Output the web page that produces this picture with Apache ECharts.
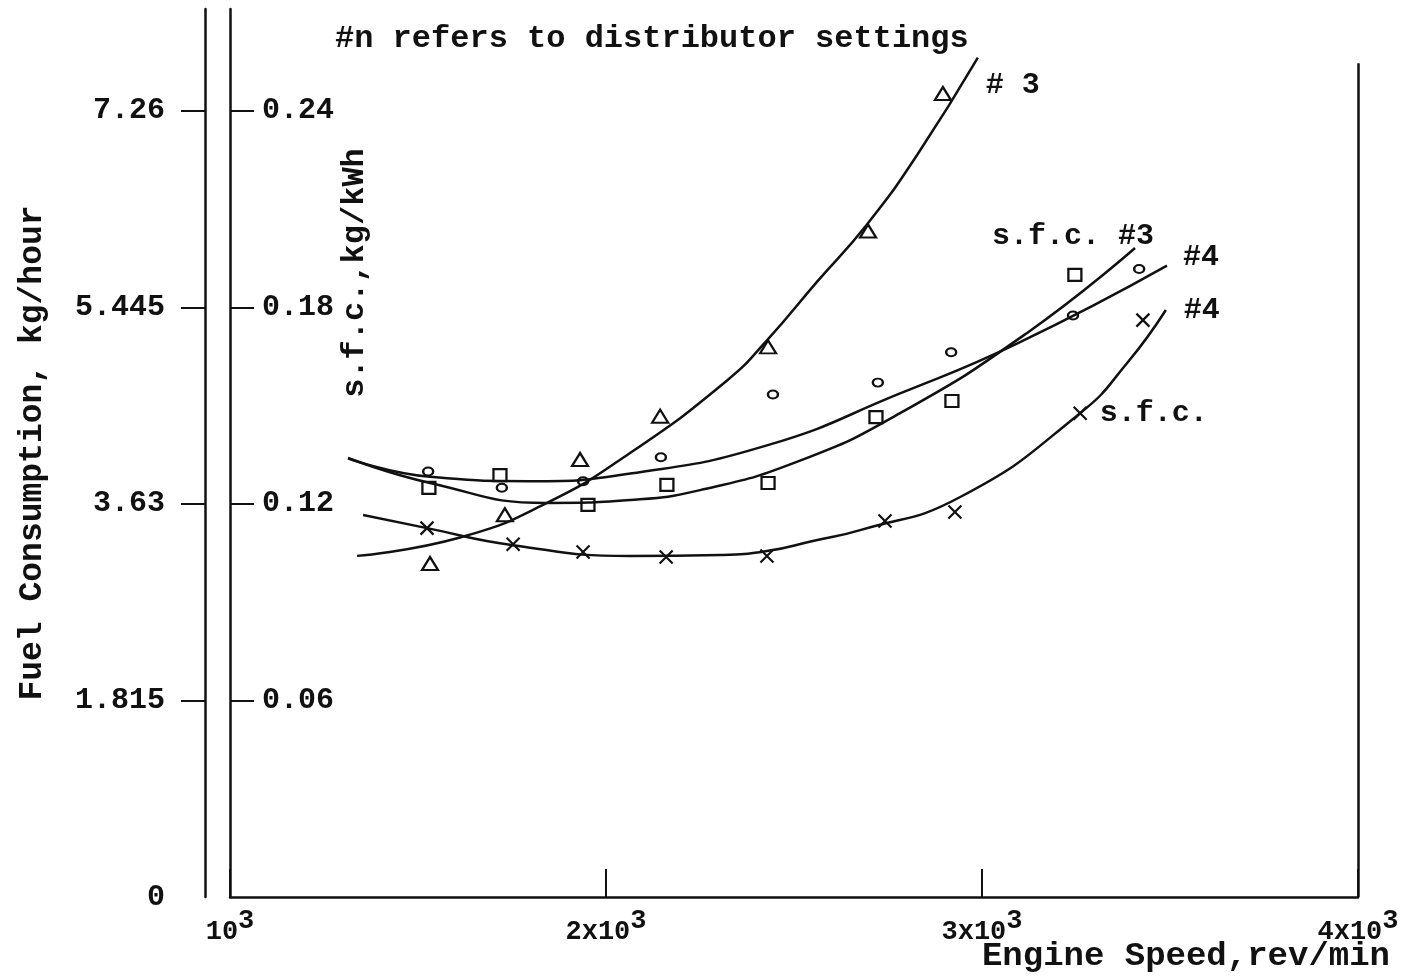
<!DOCTYPE html>
<html>
<head>
<meta charset="utf-8">
<script src="https://cdn.jsdelivr.net/npm/echarts@6/dist/echarts.min.js"></script>
<style>
  html, body { margin: 0; padding: 0; background: #fff; }
  #chart { width: 1427px; height: 979px; }
</style>
</head>
<body>
<div id="chart"></div>
<script>
// Engine speed axis (rev/min)
const speedTicks = [1000, 2000, 3000, 4000];

// Fuel consumption axis (kg/hour) and the matching s.f.c. axis (kg/kWh)
const fuelTicks = [0, 1.815, 3.63, 5.445, 7.26];
const sfcTicks = [0.06, 0.12, 0.18, 0.24];
const fuelMax = 8.2;
const sfcPerFuel = 0.24 / 7.26;   // 0.24 kg/kWh sits level with 7.26 kg/hour
const frameTop = 7.70;             // height of the right-hand frame line

// Distributor setting #3 - fuel consumption (kg/hour)
const fuel3Curve = [[1338,3.15],[1612,3.32],[1843,3.64],[2064,4.10],[2322,4.77],[2428,5.14],[2561,5.68],[2694,6.21],[2827,6.85],[2989,7.75]];
const fuel3Points = [[1532,3.08],[1731,3.53],[1931,4.04],[2144,4.44],[2431,5.08],[2697,6.15],[2896,7.42]];

// Distributor setting #4 - fuel consumption (kg/hour)
const fuel4Curve = [[1314,4.05],[1532,3.88],[1800,3.84],[2064,3.91],[2428,4.17],[2782,4.65],[3093,5.11],[3492,5.83]];
const fuel4Points = [[1527,3.93],[1723,3.78],[1939,3.84],[2146,4.06],[2444,4.64],[2723,4.75],[2918,5.03],[3242,5.37],[3418,5.80]];

// Distributor setting #3 - specific fuel consumption (kg/kWh)
const sfc3Curve = [[1314,0.1340],[1532,0.1264],[1843,0.1203],[2064,0.1212],[2250,0.1242],[2516,0.1332],[2782,0.1477],[3120,0.1722],[3407,0.1981]];
const sfc3Points = [[1529,0.1249],[1718,0.1288],[1952,0.1197],[2162,0.1258],[2431,0.1264],[2718,0.1465],[2920,0.1514],[3247,0.1899]];

// Distributor setting #4 - specific fuel consumption (kg/kWh)
const sfc4Curve = [[1354,0.1166],[1524,0.1126],[1753,0.1074],[2064,0.1041],[2303,0.1044],[2428,0.1056],[2550,0.1087],[2676,0.1120],[2942,0.1221],[3261,0.1477],[3386,0.1630],[3489,0.1792]];
const sfc4Points = [[1524,0.1126],[1753,0.1077],[1939,0.1053],[2160,0.1038],[2428,0.1041],[2742,0.1148],[2928,0.1175],[3261,0.1477],[3428,0.1761]];
const sfc4LabelIndex = 7;  // the point carrying the "s.f.c." note

const INK = '#111';
const FONT = '"Liberation Mono", "DejaVu Sans Mono", monospace';
const CROSS = 'path://M0,0L10,10M10,0L0,10';

const text = (size) => ({ fontFamily: FONT, fontSize: size, color: INK, fontWeight: 'bold' });

function curve(name, data, yAxisIndex, endText, endOffset) {
  return {
    name, type: 'line', data, yAxisIndex,
    smooth: 0.5,
    symbol: 'none', showSymbol: false, silent: true,
    lineStyle: { color: INK, width: 2.5 },
    endLabel: Object.assign({ show: true, formatter: endText, distance: 0, offset: endOffset }, text(30)),
    z: 3
  };
}

function marks(name, data, yAxisIndex, symbol, size) {
  return {
    name, type: 'scatter', data, yAxisIndex, symbol, symbolSize: size, silent: true,
    itemStyle: { color: 'transparent', borderColor: INK, borderWidth: 2.2, opacity: 1 },
    z: 4
  };
}

const sfc4Marks = marks('s.f.c. #4 points', sfc4Points.map((p, i) => i === sfc4LabelIndex
  ? { value: p, label: Object.assign({ show: true, position: 'right', distance: 12, formatter: 's.f.c.' }, text(30)) }
  : p), 1, CROSS, [13, 13]);

const fuel4Line = curve('#4', fuel4Curve, 0, '#4', [16, -8]);
fuel4Line.markLine = {
  silent: true, symbol: ['none', 'none'], animation: false,
  label: { show: false },
  lineStyle: { type: 'solid', color: INK, width: 2.5 },
  data: [[{ coord: [speedTicks[speedTicks.length - 1], 0] }, { coord: [speedTicks[speedTicks.length - 1], frameTop] }]]
};

const option = {
  animation: false,
  backgroundColor: '#fff',
  title: {
    text: '#n refers to distributor settings',
    left: 330, top: 18,
    textStyle: text(32)
  },
  grid: { left: 230, right: 69, top: 9, bottom: 82, outerBoundsMode: 'none' },
  xAxis: {
    type: 'value', min: speedTicks[0], max: speedTicks[speedTicks.length - 1],
    name: 'Engine Speed,rev/min', nameLocation: 'end', nameGap: 32, nameMoveOverlap: false,
    nameTextStyle: Object.assign(text(34), { align: 'right', verticalAlign: 'top', padding: [42, 0, 0, 0] }),
    axisLine: { show: true, lineStyle: { color: INK, width: 2.5 } },
    axisTick: { show: true, inside: true, length: 28, customValues: speedTicks, lineStyle: { color: INK, width: 2 } },
    axisLabel: {
      customValues: speedTicks, margin: 11,
      formatter: v => v === 1000 ? '{n|10}{s|3}' : '{n|' + (v / 1000) + 'x10}{s|3}',
      rich: {
        n: Object.assign(text(27), { lineHeight: 38, verticalAlign: 'bottom' }),
        s: Object.assign(text(27), { lineHeight: 38, verticalAlign: 'top' })
      }
    },
    splitLine: { show: false }
  },
  yAxis: [
    {
      type: 'value', min: 0, max: fuelMax, position: 'left', offset: 25,
      name: 'Fuel Consumption, kg/hour', nameLocation: 'middle', nameGap: 156, nameMoveOverlap: false,
      nameTextStyle: text(33),
      axisLine: { show: true, lineStyle: { color: INK, width: 2.5 } },
      axisTick: { show: true, inside: false, length: 24, customValues: fuelTicks.slice(1), lineStyle: { color: INK, width: 2 } },
      axisLabel: Object.assign({ customValues: fuelTicks, margin: 40, formatter: v => String(+v.toFixed(3)) }, text(30)),
      splitLine: { show: false }
    },
    {
      type: 'value', min: 0, max: fuelMax * sfcPerFuel, position: 'left', offset: 0,
      axisLine: { show: true, lineStyle: { color: INK, width: 2.5 } },
      axisTick: { show: true, inside: true, length: 24, customValues: sfcTicks, lineStyle: { color: INK, width: 2 } },
      axisLabel: Object.assign({ customValues: sfcTicks, inside: true, margin: 32, formatter: v => v.toFixed(2) }, text(30)),
      splitLine: { show: false }
    }
  ],
  graphic: [{
    type: 'text', x: 355, y: 273, rotation: Math.PI / 2, silent: true,
    style: { text: 's.f.c.,kg/kWh', font: 'bold 32px ' + FONT, fill: INK, align: 'center', verticalAlign: 'middle' }
  }],
  series: [
    curve('#3', fuel3Curve, 0, '# 3', [8, 28]),
    marks('#3 points', fuel3Points, 0, 'triangle', [16, 13]),
    fuel4Line,
    marks('#4 points', fuel4Points, 0, 'circle', [10, 8]),
    curve('s.f.c. #3', sfc3Curve, 1, 's.f.c. #3', [-143, -12]),
    marks('s.f.c. #3 points', sfc3Points, 1, 'rect', [13, 12]),
    curve('s.f.c. #4', sfc4Curve, 1, '#4', [18, 0]),
    sfc4Marks
  ]
};

const chart = echarts.init(document.getElementById('chart'), null, { renderer: 'canvas' });
chart.setOption(option);
</script>
</body>
</html>
